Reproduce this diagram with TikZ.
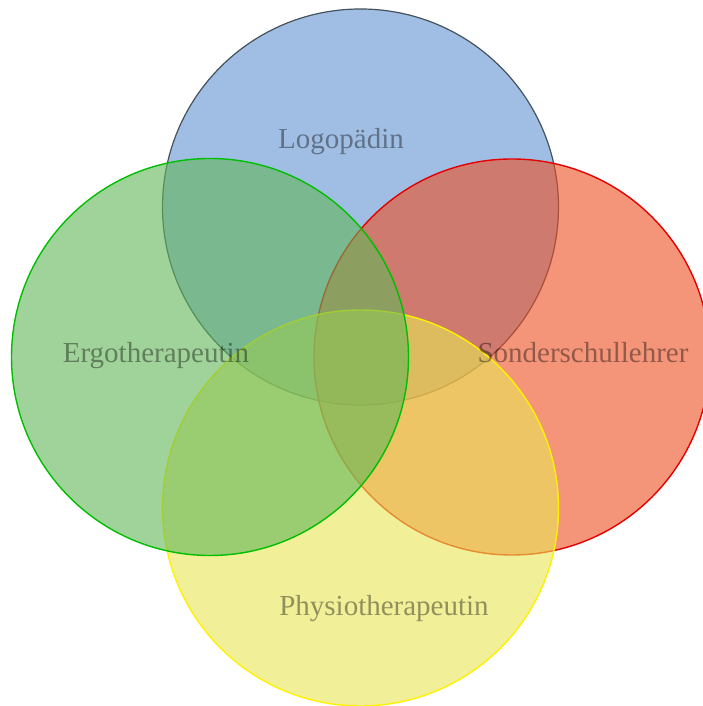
\documentclass[tikz,border=0pt]{standalone}
\usepackage{fontspec}
\setmainfont{Liberation Serif}
\usepackage{tikz}
\usetikzlibrary{positioning}
\definecolor{logoblue}{RGB}{97,147,210}
\definecolor{logorand}{RGB}{68,82,92}
\definecolor{ergogreen}{RGB}{97,182,87}
\definecolor{sonderred}{RGB}{237,78,33}
\definecolor{physyellow}{RGB}{232,230,85}

\begin{document}
\begin{tikzpicture}[x=1pt,y=1pt,
	ring/.style={fill opacity=0.6,line width=1.4pt},
	berufname/.style={anchor=base,text=black,text opacity=0.4,font=\fontsize{29}{34}\selectfont,inner sep=0pt}]
\useasboundingbox (0,0) rectangle (702,706);
\draw[ring,fill=logoblue,draw=logorand,line width=1.2pt] (360.5,499) circle (198);
\draw[ring,fill=sonderred,draw=red!90!black] (512,349) circle (198);
\draw[ring,fill=physyellow,draw=yellow] (360.5,198) circle (198);
\draw[ring,fill=ergogreen,draw=green!75!black] (210,349) circle (198.5);
	\node[berufname] (logo) at (341,557) {Logopädin};
	\node[berufname] (ergo) at (156,343) {Ergotherapeutin};
	\node[berufname] (sonder) at (583,343) {Sonderschullehrer};
	\node[berufname] (physio) at (384,90) {Physiotherapeutin};
\end{tikzpicture}
\end{document}
